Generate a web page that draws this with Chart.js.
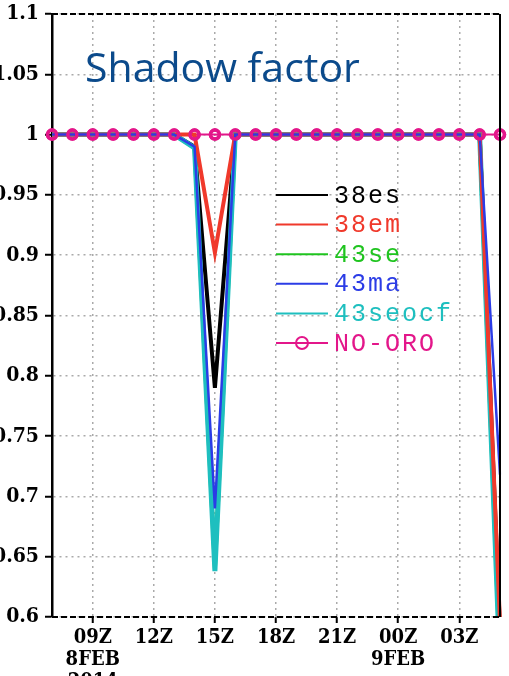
<!DOCTYPE html>
<html>
<head>
<meta charset="utf-8">
<script src="https://cdn.jsdelivr.net/npm/chart.js@4/dist/chart.umd.min.js"></script>
<style>
  body { margin: 0; background: #fff; }
</style>
</head>
<body>
<canvas id="shadow-chart" width="509" height="676"></canvas>
<script>
// hourly times, 07Z 8FEB .. 05Z 9FEB
const hours = ['07Z','08Z','09Z','10Z','11Z','12Z','13Z','14Z','15Z','16Z','17Z','18Z',
               '19Z','20Z','21Z','22Z','23Z','00Z','01Z','02Z','03Z','04Z','05Z'];
const tickLabels = {
  '09Z': ['09Z', '8FEB', '2014'],
  '12Z': ['12Z'], '15Z': ['15Z'], '18Z': ['18Z'], '21Z': ['21Z'],
  '00Z': ['00Z', '9FEB'],
  '03Z': ['03Z']
};

const es38   = [1,1,1,1,1,1,1,0.99, 0.79, 1,1,1,1,1,1,1,1,1,1,1,1,1,0.59];
const em38   = [1,1,1,1,1,1,1,1,    0.902,1,1,1,1,1,1,1,1,1,1,1,1,1,0.595];
const se43   = [1,1,1,1,1,1,1,0.989,0.64, 1,1,1,1,1,1,1,1,1,1,1,1,1,0.56];
const ma43   = [1,1,1,1,1,1,1,0.99, 0.69, 1,1,1,1,1,1,1,1,1,1,1,1,1,0.718];
const seocf43= [1,1,1,1,1,1,1,0.989,0.638,1,1,1,1,1,1,1,1,1,1,1,1,1,0.557];
const noOro  = [1,1,1,1,1,1,1,1,1,1,1,1,1,1,1,1,1,1,1,1,1,1,1];

const MAGENTA = '#e3168a';
const TICK_FONT = '"DejaVu Serif Condensed", "DejaVu Serif"';

// title drawn inside the plot
const titlePlugin = {
  id: 'plotTitle',
  afterDatasetsDraw(chart) {
    const ctx = chart.ctx;
    ctx.save();
    ctx.fillStyle = '#0b4a8b';
    ctx.font = '41px "Open Sans"';
    ctx.textBaseline = 'alphabetic';
    ctx.fillText('Shadow factor', 85, 82);
    ctx.restore();
  }
};

// NO-ORO circles go above the other lines
const circlesOnTop = {
  id: 'circlesOnTop',
  afterDatasetsDraw(chart) {
    const meta = chart.getDatasetMeta(5);
    chart.ctx.save();
    meta.data.forEach(p => p.draw(chart.ctx, chart.chartArea));
    chart.ctx.restore();
  }
};

// GrADS style legend
const legendPlugin = {
  id: 'gradsLegend',
  afterDraw(chart) {
    const ctx = chart.ctx;
    ctx.save();
    ctx.font = '25px "Liberation Mono"';
    ctx.letterSpacing = '2px';
    ctx.textBaseline = 'middle';
    chart.data.datasets.forEach((ds, i) => {
      const y = 195 + i * 29.6;
      ctx.strokeStyle = ds.borderColor;
      ctx.lineWidth = 2;
      ctx.beginPath();
      ctx.moveTo(276, y);
      ctx.lineTo(328, y);
      ctx.stroke();
      if (ds.pointRadius > 0) {
        ctx.beginPath();
        ctx.arc(302, y, 6, 0, Math.PI * 2);
        ctx.stroke();
      }
      ctx.fillStyle = ds.borderColor;
      ctx.fillText(ds.label, 334, y + 1);
    });
    ctx.restore();
  }
};

// dashed top and bottom borders, solid right border
const framePlugin = {
  id: 'frame',
  afterDraw(chart) {
    const a = chart.chartArea;
    const ctx = chart.ctx;
    ctx.save();
    ctx.strokeStyle = '#000';
    ctx.lineWidth = 2;
    ctx.setLineDash([6, 3]);
    ctx.beginPath();
    ctx.moveTo(a.left, a.top);
    ctx.lineTo(a.right, a.top);
    ctx.moveTo(a.left, a.bottom);
    ctx.lineTo(a.right, a.bottom);
    ctx.stroke();
    ctx.setLineDash([]);
    ctx.beginPath();
    ctx.moveTo(a.right, a.top);
    ctx.lineTo(a.right, a.bottom);
    ctx.stroke();
    ctx.restore();
  }
};

new Chart(document.getElementById('shadow-chart'), {
  type: 'line',
  data: {
    labels: hours,
    datasets: [
      { label: '38es',    data: es38,    borderColor: '#000000', borderWidth: 4,   pointRadius: 0, order: 3 },
      { label: '38em',    data: em38,    borderColor: '#f0392b', borderWidth: 4,   pointRadius: 0, order: 1 },
      { label: '43se',    data: se43,    borderColor: '#1fc41f', borderWidth: 4,   pointRadius: 0, order: 4 },
      { label: '43ma',    data: ma43,    borderColor: '#2b3ce6', borderWidth: 2.5, pointRadius: 0, order: 0 },
      { label: '43seocf', data: seocf43, borderColor: '#1ebfbf', borderWidth: 5,   pointRadius: 0, order: 2 },
      { label: 'NO-ORO',  data: noOro,   borderColor: MAGENTA,   borderWidth: 2,
        pointRadius: 4.5, pointBorderWidth: 3.5, pointBackgroundColor: 'rgba(255,255,255,0)',
        pointBorderColor: MAGENTA, order: 5 }
    ]
  },
  options: {
    responsive: false,
    animation: false,
    devicePixelRatio: 1,
    elements: { line: { tension: 0 } },
    layout: { padding: { top: 14, right: 9, left: 0, bottom: 0 } },
    plugins: { legend: { display: false }, tooltip: { enabled: false } },
    scales: {
      x: {
        z: 1,
        offset: false,
        afterFit(scale) { scale.height = 59; },
        // border.dash styles the grid lines; the dashed axis line is drawn by the frame plugin
        border: { display: false, dash: [2, 4] },
        grid: {
          color: '#aaaaaa', lineWidth: 1.5,
          tickColor: '#000', tickWidth: 2, tickLength: 6, tickBorderDash: []
        },
        ticks: {
          autoSkip: false, maxRotation: 0, padding: 4, color: '#000',
          font: { family: TICK_FONT, weight: 'bold', size: 20, lineHeight: 1.1 },
          callback(v, i) { return tickLabels[hours[i]] || null; }
        }
      },
      y: {
        z: 1,
        min: 0.6,
        max: 1.1,
        afterFit(scale) { scale.width = 52; },
        border: { color: '#000', width: 2.5, dash: [2, 4] },
        grid: {
          color: '#aaaaaa', lineWidth: 1.5,
          tickColor: '#000', tickWidth: 2, tickLength: 7, tickBorderDash: []
        },
        ticks: {
          stepSize: 0.05, padding: 6, color: '#000',
          font: { family: TICK_FONT, weight: 'bold', size: 21, lineHeight: 0.75 },
          callback(v) { return String(Math.round(v * 100) / 100); }
        }
      }
    }
  },
  plugins: [titlePlugin, circlesOnTop, legendPlugin, framePlugin]
});
</script>
</body>
</html>
